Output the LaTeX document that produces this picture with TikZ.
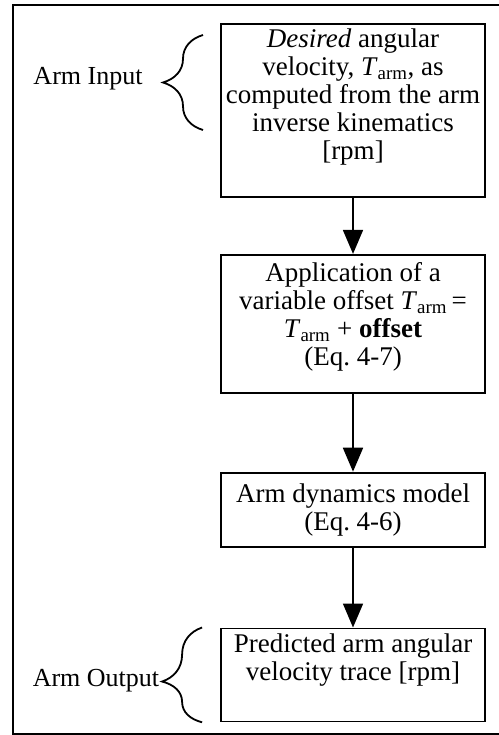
\documentclass[tikz,border=0pt]{standalone}
\usepackage{fontspec}
\setmainfont{Liberation Serif}
\usetikzlibrary{arrows.meta,positioning,decorations.pathreplacing}
\newcommand{\Tarm}{\textit{T}\textsubscript{arm}}
\newcommand{\padline}[1]{\\[#1]\mbox{}}

\begin{document}
\begin{tikzpicture}[x=1pt,y=-1pt,
  flowbox/.style={draw,line width=1.8pt,minimum width=264pt,align=center,
                  inner xsep=2pt,inner ysep=0pt,font=\fontsize{27}{28}\selectfont},
  sidelabel/.style={font=\fontsize{26}{28}\selectfont},
  flowarrow/.style={line width=1.8pt,-{Triangle[width=20pt,length=24pt]}},
  curly/.style={decorate,decoration={brace,amplitude=40pt,#1},line width=1.8pt},
  curly/.default={aspect=0.5}]
  \useasboundingbox (0,0) rectangle (498,735);
  \draw[line width=2pt] (504,5) -- (13,5) -- (13,734) -- (504,734);

  \node[flowbox,minimum height=173pt] (desired) at (353,110.5)
    {\textit{Desired} angular\\velocity, \Tarm, as\\computed from the arm\\inverse kinematics\\{}[rpm]\padline{5pt}};
  \node[flowbox,minimum height=138pt,below=56pt of desired] (offset)
    {Application of a\\variable offset \Tarm\,=\\\Tarm{} + \textbf{offset}\\(Eq.~4-7)\padline{-8pt}};
  \node[flowbox,minimum height=74pt,below=78pt of offset] (dynamics)
    {Arm dynamics model\\(Eq.~4-6)};
  \node[flowbox,minimum height=93pt,below=80pt of dynamics] (predicted)
    {Predicted arm angular\\velocity trace [rpm]\padline{8pt}};

  \draw[flowarrow] (desired) -- (offset);
  \draw[flowarrow] (offset) -- (dynamics);
  \draw[flowarrow] (dynamics) -- (predicted);

  % input and output braces
  \node[sidelabel] (armin) at (88,79) {Arm Input};
  \node[sidelabel] (armout) at (96,681) {Arm Output};
  \coordinate (inbot) at (203,130);
  \coordinate (intop) at (203,35);
  \draw[curly] (inbot) -- (intop);
  \draw[curly={aspect=0.43}] ([xshift=-18pt]predicted.south west) -- ([xshift=-18pt]predicted.north west);
\end{tikzpicture}
\end{document}
